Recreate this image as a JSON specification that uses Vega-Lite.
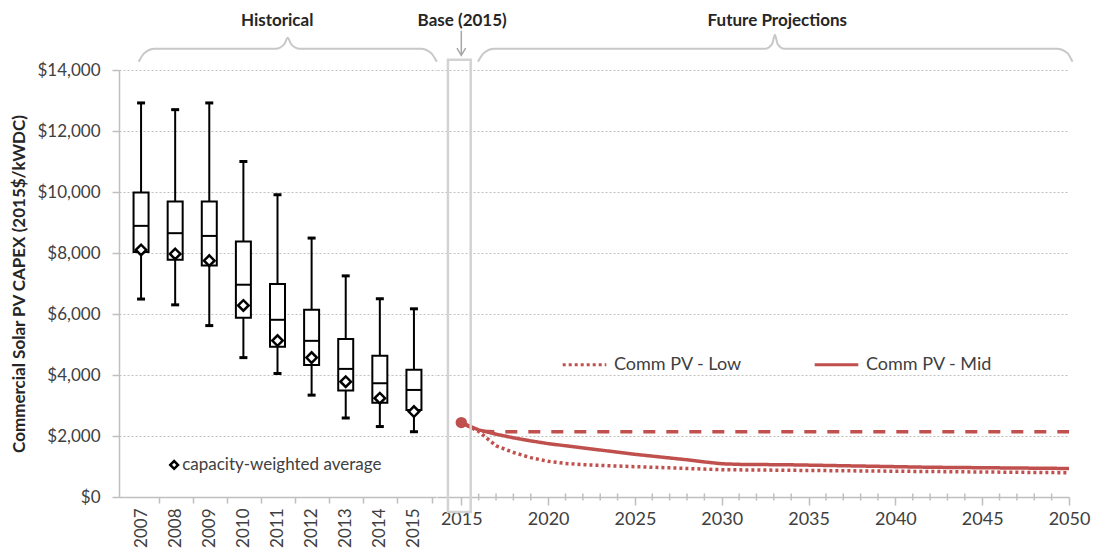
{
  "$schema": "https://vega.github.io/schema/vega-lite/v6.json",
  "padding": {"left": 10, "top": 12, "right": 5, "bottom": 5},
  "spacing": 1,
  "bounds": "flush",
  "config": {
    "font": "Lato",
    "view": {"stroke": null},
    "axis": {"labelColor": "#404040", "domainColor": "#bfbfbf", "tickColor": "#bfbfbf", "domainWidth": 1.5, "tickWidth": 1.5}
  },
  "resolve": {
    "scale": {"strokeDash": "independent"},
    "legend": {"strokeDash": "independent"}
  },
  "datasets": {
    "boxes": [
      {"year": 2007, "min": 6490, "q1": 8030, "median": 8890, "q3": 9980, "max": 12920, "mean": 8100},
      {"year": 2008, "min": 6300, "q1": 7780, "median": 8650, "q3": 9690, "max": 12700, "mean": 7970},
      {"year": 2009, "min": 5620, "q1": 7590, "median": 8560, "q3": 9690, "max": 12920, "mean": 7750},
      {"year": 2010, "min": 4570, "q1": 5880, "median": 6960, "q3": 8380, "max": 11000, "mean": 6280},
      {"year": 2011, "min": 4050, "q1": 4930, "median": 5810, "q3": 6980, "max": 9910, "mean": 5130},
      {"year": 2012, "min": 3340, "q1": 4330, "median": 5120, "q3": 6140, "max": 8490, "mean": 4570},
      {"year": 2013, "min": 2590, "q1": 3490, "median": 4200, "q3": 5180, "max": 7250, "mean": 3780},
      {"year": 2014, "min": 2310, "q1": 3090, "median": 3730, "q3": 4630, "max": 6500, "mean": 3240},
      {"year": 2015, "min": 2140, "q1": 2850, "median": 3510, "q3": 4170, "max": 6170, "mean": 2800}
    ],
    "proj": [
      {"series": "Comm PV - Mid", "year": 2015, "value": 2440},
      {"series": "Comm PV - Mid", "year": 2016, "value": 2200},
      {"series": "Comm PV - Mid", "year": 2017, "value": 2060},
      {"series": "Comm PV - Mid", "year": 2018, "value": 1940},
      {"series": "Comm PV - Mid", "year": 2019, "value": 1840},
      {"series": "Comm PV - Mid", "year": 2020, "value": 1750},
      {"series": "Comm PV - Mid", "year": 2021, "value": 1680},
      {"series": "Comm PV - Mid", "year": 2022, "value": 1610},
      {"series": "Comm PV - Mid", "year": 2023, "value": 1540},
      {"series": "Comm PV - Mid", "year": 2024, "value": 1470},
      {"series": "Comm PV - Mid", "year": 2025, "value": 1400},
      {"series": "Comm PV - Mid", "year": 2026, "value": 1340},
      {"series": "Comm PV - Mid", "year": 2027, "value": 1280},
      {"series": "Comm PV - Mid", "year": 2028, "value": 1220},
      {"series": "Comm PV - Mid", "year": 2029, "value": 1150},
      {"series": "Comm PV - Mid", "year": 2030, "value": 1090},
      {"series": "Comm PV - Mid", "year": 2031, "value": 1070},
      {"series": "Comm PV - Mid", "year": 2032, "value": 1065},
      {"series": "Comm PV - Mid", "year": 2033, "value": 1060},
      {"series": "Comm PV - Mid", "year": 2034, "value": 1055},
      {"series": "Comm PV - Mid", "year": 2035, "value": 1045},
      {"series": "Comm PV - Mid", "year": 2036, "value": 1035},
      {"series": "Comm PV - Mid", "year": 2037, "value": 1025},
      {"series": "Comm PV - Mid", "year": 2038, "value": 1015},
      {"series": "Comm PV - Mid", "year": 2039, "value": 1005},
      {"series": "Comm PV - Mid", "year": 2040, "value": 995},
      {"series": "Comm PV - Mid", "year": 2041, "value": 985},
      {"series": "Comm PV - Mid", "year": 2042, "value": 975},
      {"series": "Comm PV - Mid", "year": 2043, "value": 970},
      {"series": "Comm PV - Mid", "year": 2044, "value": 965},
      {"series": "Comm PV - Mid", "year": 2045, "value": 960},
      {"series": "Comm PV - Mid", "year": 2046, "value": 955},
      {"series": "Comm PV - Mid", "year": 2047, "value": 950},
      {"series": "Comm PV - Mid", "year": 2048, "value": 945},
      {"series": "Comm PV - Mid", "year": 2049, "value": 940},
      {"series": "Comm PV - Mid", "year": 2050, "value": 935},
      {"series": "Comm PV - Low", "year": 2015, "value": 2440},
      {"series": "Comm PV - Low", "year": 2016, "value": 2150},
      {"series": "Comm PV - Low", "year": 2017, "value": 1680},
      {"series": "Comm PV - Low", "year": 2018, "value": 1460},
      {"series": "Comm PV - Low", "year": 2019, "value": 1290},
      {"series": "Comm PV - Low", "year": 2020, "value": 1170},
      {"series": "Comm PV - Low", "year": 2021, "value": 1100},
      {"series": "Comm PV - Low", "year": 2022, "value": 1060},
      {"series": "Comm PV - Low", "year": 2023, "value": 1035},
      {"series": "Comm PV - Low", "year": 2024, "value": 1015},
      {"series": "Comm PV - Low", "year": 2025, "value": 995},
      {"series": "Comm PV - Low", "year": 2026, "value": 975},
      {"series": "Comm PV - Low", "year": 2027, "value": 955},
      {"series": "Comm PV - Low", "year": 2028, "value": 935},
      {"series": "Comm PV - Low", "year": 2029, "value": 915},
      {"series": "Comm PV - Low", "year": 2030, "value": 895},
      {"series": "Comm PV - Low", "year": 2031, "value": 890},
      {"series": "Comm PV - Low", "year": 2032, "value": 885},
      {"series": "Comm PV - Low", "year": 2033, "value": 880},
      {"series": "Comm PV - Low", "year": 2034, "value": 875},
      {"series": "Comm PV - Low", "year": 2035, "value": 870},
      {"series": "Comm PV - Low", "year": 2036, "value": 865},
      {"series": "Comm PV - Low", "year": 2037, "value": 860},
      {"series": "Comm PV - Low", "year": 2038, "value": 855},
      {"series": "Comm PV - Low", "year": 2039, "value": 850},
      {"series": "Comm PV - Low", "year": 2040, "value": 845},
      {"series": "Comm PV - Low", "year": 2041, "value": 840},
      {"series": "Comm PV - Low", "year": 2042, "value": 835},
      {"series": "Comm PV - Low", "year": 2043, "value": 830},
      {"series": "Comm PV - Low", "year": 2044, "value": 825},
      {"series": "Comm PV - Low", "year": 2045, "value": 820},
      {"series": "Comm PV - Low", "year": 2046, "value": 815},
      {"series": "Comm PV - Low", "year": 2047, "value": 810},
      {"series": "Comm PV - Low", "year": 2048, "value": 805},
      {"series": "Comm PV - Low", "year": 2049, "value": 800},
      {"series": "Comm PV - Low", "year": 2050, "value": 795},
      {"series": "Comm PV - High", "year": 2015, "value": 2440},
      {"series": "Comm PV - High", "year": 2016, "value": 2160},
      {"series": "Comm PV - High", "year": 2017, "value": 2140},
      {"series": "Comm PV - High", "year": 2050, "value": 2140}
    ],
    "minorYears": [
      {"year": 2016}, {"year": 2017}, {"year": 2018}, {"year": 2019},
      {"year": 2021}, {"year": 2022}, {"year": 2023}, {"year": 2024},
      {"year": 2026}, {"year": 2027}, {"year": 2028}, {"year": 2029},
      {"year": 2031}, {"year": 2032}, {"year": 2033}, {"year": 2034},
      {"year": 2036}, {"year": 2037}, {"year": 2038}, {"year": 2039},
      {"year": 2041}, {"year": 2042}, {"year": 2043}, {"year": 2044},
      {"year": 2046}, {"year": 2047}, {"year": 2048}, {"year": 2049}
    ],
    "braceH": [
      {"x": 2006.93, "y": 14272}, {"x": 2007.1, "y": 14560}, {"x": 2007.4, "y": 14698},
      {"x": 2010.95, "y": 14698}, {"x": 2011.2, "y": 14850}, {"x": 2011.3, "y": 15059},
      {"x": 2011.4, "y": 14850}, {"x": 2011.65, "y": 14698}, {"x": 2015.2, "y": 14698},
      {"x": 2015.5, "y": 14560}, {"x": 2015.67, "y": 14272}
    ],
    "braceF": [
      {"x": 2015.96, "y": 14272}, {"x": 2016.3, "y": 14560}, {"x": 2016.9, "y": 14698},
      {"x": 2032.5, "y": 14698}, {"x": 2032.9, "y": 14850}, {"x": 2033.06, "y": 15157},
      {"x": 2033.22, "y": 14850}, {"x": 2033.6, "y": 14698}, {"x": 2049.3, "y": 14698},
      {"x": 2049.9, "y": 14560}, {"x": 2050.2, "y": 14272}
    ],
    "arrowHead": [
      {"x": 2014.75, "y": 14720}, {"x": 2015, "y": 14480}, {"x": 2015.25, "y": 14720}
    ],
    "labels": [
      {"text": "Historical", "x": 2010.99, "y": 15594},
      {"text": "Base (2015)", "x": 2015.05, "y": 15594},
      {"text": "Future Projections", "x": 2033.2, "y": 15594}
    ],
    "meanKey": [
      {"text": "capacity-weighted average", "x": 2007.97, "y": 1050}
    ]
  },
  "hconcat": [
    {
      "width": 317,
      "height": 427,
      "layer": [
        {
          "data": {"name": "boxes"},
          "mark": {"type": "rule", "color": "black", "strokeWidth": 2},
          "encoding": {
            "x": {
              "field": "year", "type": "quantitative",
              "scale": {"domain": [2006.5, 2015.5], "nice": false, "zero": false},
              "axis": {
                "title": null,
                "values": [2007, 2008, 2009, 2010, 2011, 2012, 2013, 2014, 2015],
                "tickCount": 50,
                "format": "d",
                "tickOffset": 17.6,
                "labelOffset": -17.6,
                "labelAngle": -90,
                "labelFontSize": 17,
                "labelPadding": 5,
                "labelFlush": false,
                "labelOverlap": false,
                "grid": false,
                "tickSize": 6
              }
            },
            "y": {
              "field": "min", "type": "quantitative",
              "scale": {"domain": [0, 14000], "nice": false},
              "axis": {
                "title": "Commercial Solar PV CAPEX (2015$/kWDC)",
                "titleFontSize": 17,
                "titleFontWeight": "bold",
                "titleColor": "#262626",
                "titlePadding": 8,
                "values": [0, 2000, 4000, 6000, 8000, 10000, 12000, 14000],
                "tickCount": 50,
                "format": "$,.0f",
                "labelFontSize": 17,
                "labelPadding": 12,
                "tickSize": 7,
                "grid": true,
                "gridDash": [2, 2],
                "gridColor": "#bfbfbf",
                "gridWidth": 1.2
              }
            },
            "y2": {"field": "max"}
          }
        },
        {
          "data": {"name": "boxes"},
          "mark": {"type": "bar", "width": 15, "fill": "white", "stroke": "black", "strokeWidth": 2},
          "encoding": {
            "x": {"field": "year", "type": "quantitative"},
            "y": {"field": "q1", "type": "quantitative"},
            "y2": {"field": "q3"}
          }
        },
        {
          "data": {"name": "boxes"},
          "mark": {"type": "tick", "orient": "horizontal", "size": 15, "thickness": 2, "color": "black", "opacity": 1},
          "encoding": {
            "x": {"field": "year", "type": "quantitative"},
            "y": {"field": "median", "type": "quantitative"}
          }
        },
        {
          "data": {"name": "boxes"},
          "mark": {"type": "tick", "orient": "horizontal", "size": 8, "thickness": 3, "color": "black", "opacity": 1},
          "encoding": {
            "x": {"field": "year", "type": "quantitative"},
            "y": {"field": "max", "type": "quantitative"}
          }
        },
        {
          "data": {"name": "boxes"},
          "mark": {"type": "tick", "orient": "horizontal", "size": 8, "thickness": 3, "color": "black", "opacity": 1},
          "encoding": {
            "x": {"field": "year", "type": "quantitative"},
            "y": {"field": "min", "type": "quantitative"}
          }
        },
        {
          "data": {"name": "boxes"},
          "mark": {"type": "point", "shape": "diamond", "filled": true, "fill": "white", "stroke": "black", "strokeWidth": 2.5, "size": 110, "opacity": 1},
          "encoding": {
            "x": {"field": "year", "type": "quantitative"},
            "y": {"field": "mean", "type": "quantitative"}
          }
        },
        {
          "data": {"name": "meanKey"},
          "mark": {"type": "point", "shape": "diamond", "filled": true, "fill": "white", "stroke": "black", "strokeWidth": 2.5, "size": 60, "opacity": 1},
          "encoding": {
            "x": {"field": "x", "type": "quantitative"},
            "y": {"field": "y", "type": "quantitative"}
          }
        },
        {
          "data": {"name": "meanKey"},
          "mark": {"type": "text", "fontSize": 17, "color": "#404040", "align": "left", "baseline": "middle", "dx": 8},
          "encoding": {
            "x": {"field": "x", "type": "quantitative"},
            "y": {"field": "y", "type": "quantitative"},
            "text": {"field": "text"}
          }
        },
        {
          "data": {"name": "braceH"},
          "mark": {"type": "line", "color": "#c8c8c8", "strokeWidth": 2, "interpolate": "monotone", "clip": false},
          "encoding": {
            "x": {"field": "x", "type": "quantitative"},
            "y": {"field": "y", "type": "quantitative"}
          }
        },
        {
          "data": {"name": "labels"},
          "transform": [{"filter": "datum.text === 'Historical'"}],
          "mark": {"type": "text", "fontSize": 17, "fontWeight": "bold", "color": "#262626", "align": "center", "baseline": "middle"},
          "encoding": {
            "x": {"field": "x", "type": "quantitative"},
            "y": {"field": "y", "type": "quantitative"},
            "text": {"field": "text"}
          }
        }
      ]
    },
    {
      "width": 632,
      "height": 427,
      "layer": [
        {
          "data": {"name": "proj"},
          "transform": [{"filter": "datum.series === 'Comm PV - High'"}],
          "mark": {"type": "line", "color": "#c0504d", "strokeWidth": 3.5, "strokeDash": [12, 11]},
          "encoding": {
            "x": {
              "field": "year", "type": "quantitative",
              "scale": {"domain": [2013.6, 2050], "nice": false, "zero": false},
              "axis": {
                "title": null,
                "values": [2015, 2020, 2025, 2030, 2035, 2040, 2045, 2050],
                "tickCount": 50,
                "format": "d",
                "labelAngle": 0,
                "labelFontSize": 18,
                "labelPadding": 5,
                "labelFlush": false,
                "labelOverlap": false,
                "grid": false,
                "tickSize": 8
              }
            },
            "y": {
              "field": "value", "type": "quantitative",
              "scale": {"domain": [0, 14000], "nice": false},
              "axis": {
                "title": null, "labels": false, "ticks": false, "domain": false,
                "values": [0, 2000, 4000, 6000, 8000, 10000, 12000, 14000],
                "tickCount": 50,
                "grid": true, "gridDash": [2, 2], "gridColor": "#bfbfbf", "gridWidth": 1.2
              }
            }
          }
        },
        {
          "data": {"name": "minorYears"},
          "mark": {"type": "tick", "orient": "vertical", "size": 7, "thickness": 1.5, "color": "#bfbfbf", "opacity": 1},
          "encoding": {
            "x": {"field": "year", "type": "quantitative"},
            "y": {"datum": 0}
          }
        },
        {
          "data": {"name": "proj"},
          "transform": [{"filter": "datum.series !== 'Comm PV - High'"}],
          "mark": {"type": "line", "color": "#c0504d", "strokeWidth": 3.5},
          "encoding": {
            "x": {"field": "year", "type": "quantitative"},
            "y": {"field": "value", "type": "quantitative"},
            "strokeDash": {
              "field": "series", "type": "nominal",
              "scale": {"domain": ["Comm PV - Low", "Comm PV - Mid"], "range": [[3, 3], [1, 0]]},
              "legend": {
                "title": null, "orient": "none", "legendX": 124, "legendY": 271,
                "direction": "horizontal", "padding": 0,
                "symbolType": "stroke", "symbolSize": 1900, "symbolStrokeWidth": 3,
                "symbolStrokeColor": "#c0504d",
                "labelFontSize": 18, "labelColor": "#404040", "labelOffset": 6,
                "columnPadding": 66
              }
            }
          }
        },
        {
          "data": {"values": [{"year": 2015, "value": 2440}]},
          "mark": {"type": "point", "filled": true, "color": "#c0504d", "size": 130, "opacity": 1},
          "encoding": {
            "x": {"field": "year", "type": "quantitative"},
            "y": {"field": "value", "type": "quantitative"}
          }
        },
        {
          "data": {"values": [{"x1": 2014.23, "x2": 2015.54, "y1": -490, "y2": 14337}]},
          "mark": {"type": "rect", "fill": null, "stroke": "#d3d3d3", "strokeWidth": 2.5, "clip": false},
          "encoding": {
            "x": {"field": "x1", "type": "quantitative"},
            "x2": {"field": "x2"},
            "y": {"field": "y1", "type": "quantitative"},
            "y2": {"field": "y2"}
          }
        },
        {
          "data": {"name": "braceF"},
          "mark": {"type": "line", "color": "#c8c8c8", "strokeWidth": 2, "interpolate": "monotone", "clip": false},
          "encoding": {
            "x": {"field": "x", "type": "quantitative"},
            "y": {"field": "y", "type": "quantitative"}
          }
        },
        {
          "data": {"values": [{"x": 2015, "y1": 15290, "y2": 14480}]},
          "mark": {"type": "rule", "color": "#a6a6a6", "strokeWidth": 1.5},
          "encoding": {
            "x": {"field": "x", "type": "quantitative"},
            "y": {"field": "y1", "type": "quantitative"},
            "y2": {"field": "y2"}
          }
        },
        {
          "data": {"name": "arrowHead"},
          "mark": {"type": "line", "color": "#a6a6a6", "strokeWidth": 1.5, "clip": false},
          "encoding": {
            "x": {"field": "x", "type": "quantitative"},
            "y": {"field": "y", "type": "quantitative"}
          }
        },
        {
          "data": {"name": "labels"},
          "transform": [{"filter": "datum.text !== 'Historical'"}],
          "mark": {"type": "text", "fontSize": 17, "fontWeight": "bold", "color": "#262626", "align": "center", "baseline": "middle"},
          "encoding": {
            "x": {"field": "x", "type": "quantitative"},
            "y": {"field": "y", "type": "quantitative"},
            "text": {"field": "text"}
          }
        }
      ]
    }
  ]
}
